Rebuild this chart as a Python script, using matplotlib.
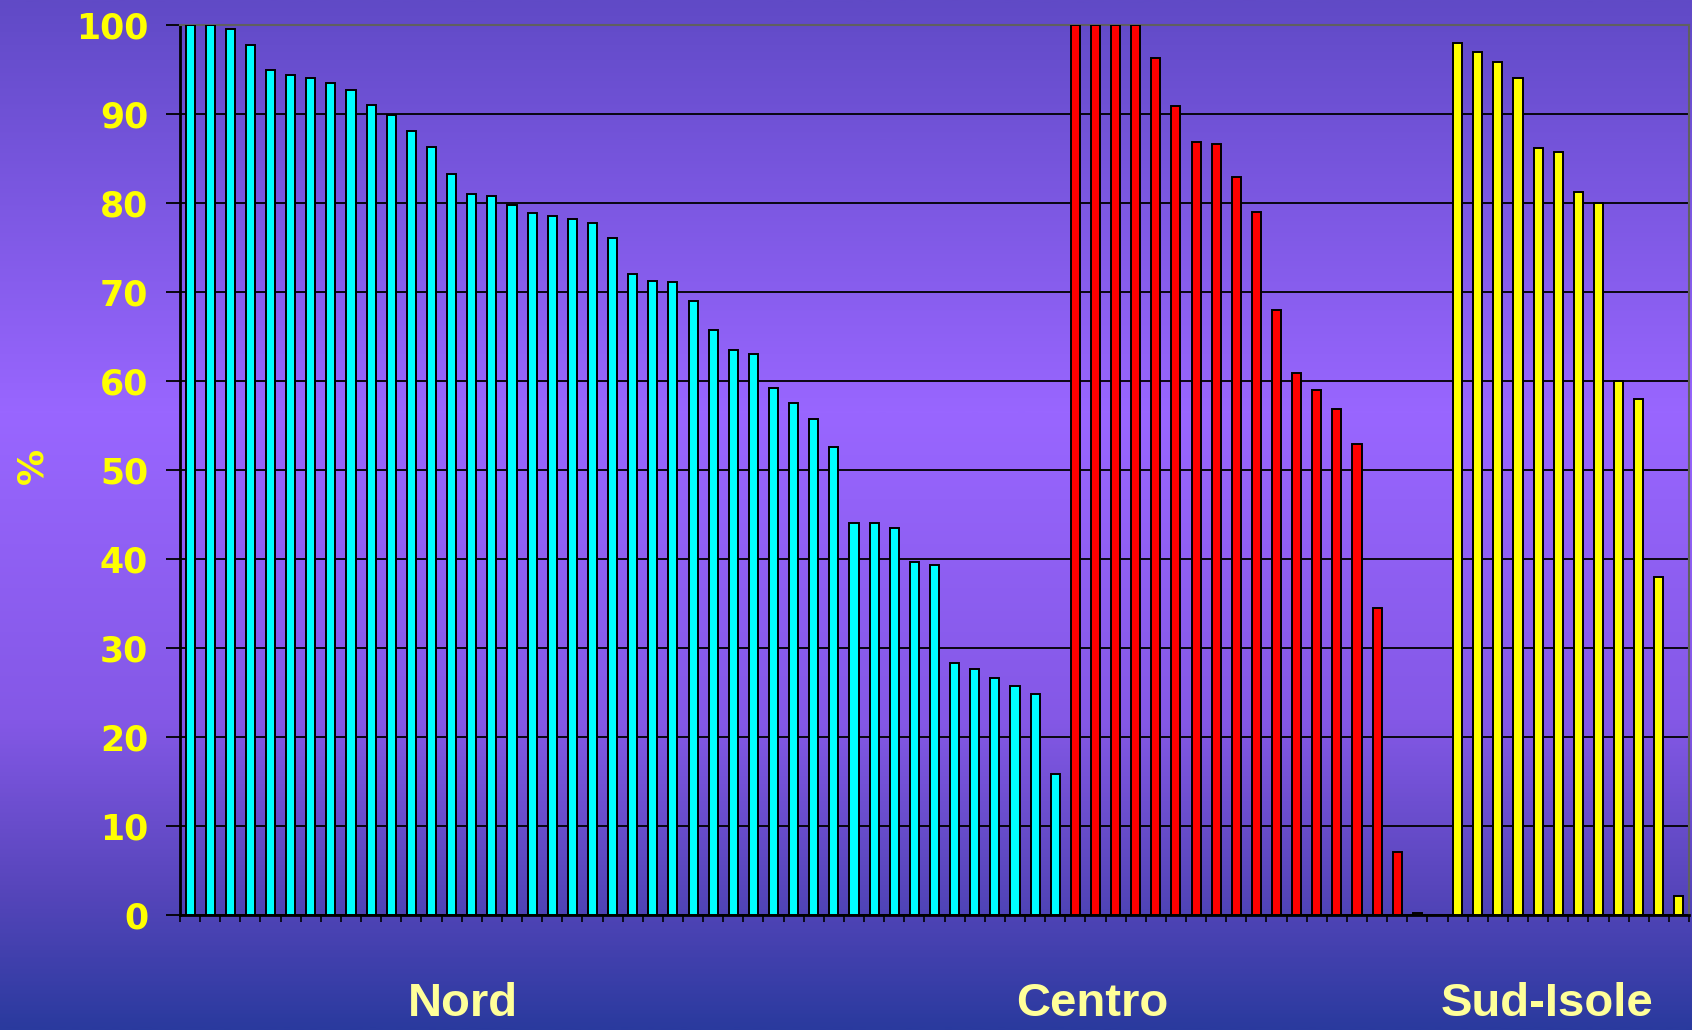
import numpy as np
import matplotlib
matplotlib.use("Agg")
import matplotlib.pyplot as plt
from matplotlib.colors import LinearSegmentedColormap

# Values (% per area), sorted within each group
nord = [100, 100, 99.5, 97.7, 94.9, 94.3, 94.0, 93.5, 92.7, 91.0, 89.9, 88.1,
        86.3, 83.2, 81.0, 80.7, 79.7, 78.8, 78.5, 78.2, 77.7, 76.0, 72.0, 71.2,
        71.1, 69.0, 65.7, 63.5, 63.0, 59.2, 57.5, 55.7, 52.6, 44.0, 44.0, 43.5,
        39.6, 39.3, 28.3, 27.6, 26.6, 25.7, 24.8, 15.8]
centro = [100, 100, 100, 100, 96.3, 90.9, 86.8, 86.6, 82.9, 78.9, 68.0, 60.9,
          59.0, 56.8, 52.9, 34.5, 7.0, 0.2]
sud_isole = [98.0, 96.9, 95.8, 94.0, 86.1, 85.7, 81.2, 80.0, 60.0, 58.0, 37.9, 2.1]

group_names = ["Nord", "Centro", "Sud-Isole"]
group_colors = ["#00ffff", "#ff0000", "#ffff00"]
# one empty slot between Centro and Sud-Isole
gap_after_centro = 1

W, H = 1692, 1030
fig = plt.figure(figsize=(W / 100, H / 100), dpi=100)

# background gradient
bg_ax = fig.add_axes([0, 0, 1, 1], zorder=-10)
cmap = LinearSegmentedColormap.from_list("bg", [
    (0.0, "#604ac6"), (0.40, "#9966ff"), (0.70, "#8458e6"),
    (0.86, "#5846bc"), (1.0, "#2a3a9e")])
grad = np.linspace(0, 1, 512).reshape(-1, 1)
bg_ax.imshow(grad, aspect="auto", cmap=cmap, extent=[0, 1, 0, 1], origin="upper")
bg_ax.set_axis_off()

ax = fig.add_axes([180 / W, 1 - 914.7 / H, (1689 - 180) / W, (914.7 - 24.7) / H])
ax.patch.set_alpha(0)

x_nord = np.arange(len(nord))
x_centro = np.arange(len(centro)) + len(nord)
x_sud = np.arange(len(sud_isole)) + len(nord) + len(centro) + gap_after_centro
n_total = len(nord) + len(centro) + gap_after_centro + len(sud_isole)

for xs, vals, col in zip([x_nord, x_centro, x_sud], [nord, centro, sud_isole], group_colors):
    ax.bar(xs, vals, width=0.45, color=col, edgecolor="black", linewidth=1.4, zorder=3)

ax.set_xlim(-0.5, n_total - 0.5)
ax.set_ylim(0, 100)

ax.set_yticks(np.arange(0, 101, 10))
ax.yaxis.grid(True, color="black", linewidth=1.3, zorder=1)
ax.set_axisbelow(True)
ax.tick_params(axis="y", length=10, width=1.3, color="black", pad=13,
               labelsize=25, labelcolor="#ffff00")
for lab in ax.get_yticklabels():
    lab.set_fontweight("heavy")
    lab.set_family("DejaVu Sans")

ax.set_xticks(np.arange(-0.5, n_total, 1.0))
ax.set_xticklabels([])
ax.tick_params(axis="x", length=5, width=1.2, color="black")

for side in ["left", "bottom"]:
    ax.spines[side].set_color("black")
    ax.spines[side].set_linewidth(2)
for side in ["top", "right"]:
    ax.spines[side].set_color("#606060")
    ax.spines[side].set_linewidth(1.5)

# axis title "%"
fig.text(32 / W, 1 - 466 / H, "%", rotation=90, ha="center", va="center",
         color="#ffff00", fontsize=26, fontweight="bold")

# group labels below the axis
for name, xc in zip(group_names, [463, 1092, 1547]):
    fig.text(xc / W, 1 - 1016 / H, name, ha="center", va="baseline",
             color="#ffff99", fontsize=34, fontweight="bold",
             family=["Liberation Sans", "DejaVu Sans"])

fig.savefig("out.png", dpi=100)
